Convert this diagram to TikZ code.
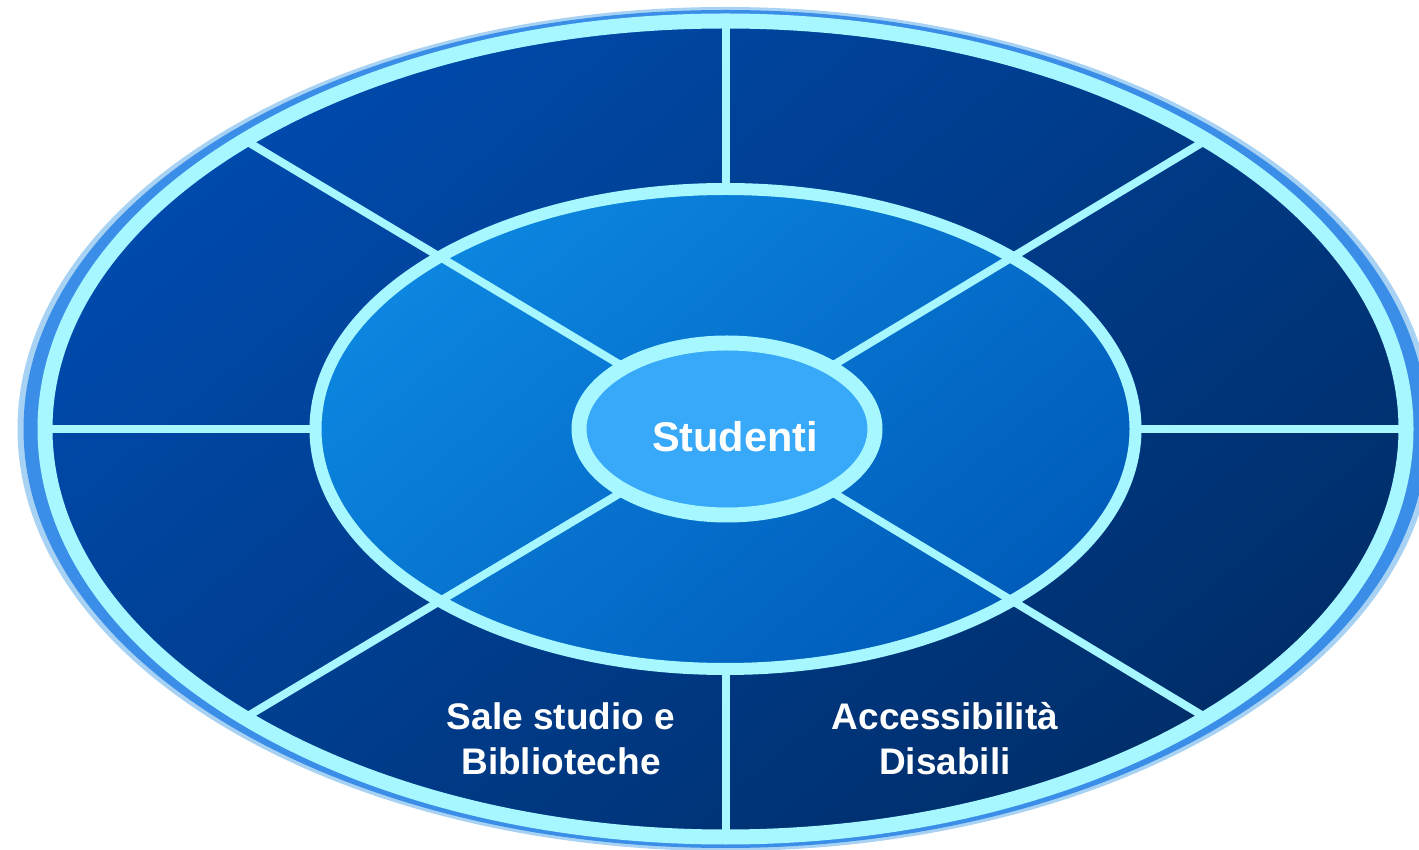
\documentclass[tikz,border=0pt]{standalone}
\usepackage{fontspec}
\setmainfont{Liberation Sans}
\usetikzlibrary{shapes.geometric}
\definecolor{ringcyan}{HTML}{A6F7FF}
\definecolor{halo}{HTML}{3A8EE8}
\definecolor{halolight}{HTML}{A8D2F4}
\definecolor{outerA}{HTML}{004AAC}
\definecolor{outerB}{HTML}{002E6A}
\definecolor{midA}{HTML}{0C86E0}
\definecolor{midB}{HTML}{005CBA}
\definecolor{innerfill}{HTML}{38A8F8}
\tikzset{
  ring/.style={ellipse, inner sep=0pt, outer sep=0pt, draw=ringcyan},
  spoke/.style={draw=ringcyan, line width=8pt},
  label/.style={text=white, font=\bfseries\fontsize{37}{45}\selectfont, align=center},
}
\begin{document}
\begin{tikzpicture}[x=1pt,y=1pt]
\useasboundingbox (0,0) rectangle (1419,849);
% halo around the outer ellipse
\fill[halolight] (725.5,420) ellipse [x radius=708pt, y radius=422pt];
\fill[halo] (725.5,420) ellipse [x radius=702pt, y radius=419pt];
% outer ellipse
\node[ring, line width=15pt, minimum width=1361pt, minimum height=816pt,
  shading=axis, top color=outerA, bottom color=outerB, shading angle=40] (outer) at (725.5,420) {};
% middle ellipse
\node[ring, line width=12pt, minimum width=820pt, minimum height=480pt,
  shading=axis, top color=midA, bottom color=midB, shading angle=40] (middle) at (725.5,420) {};
% straight spokes
\draw[spoke] (middle.north) -- (outer.north);
\draw[spoke] (middle.south) -- (outer.south);
\draw[spoke] (middle.west) -- (outer.west);
\draw[spoke] (middle.east) -- (outer.east);
% inner ellipse
\node[ring, line width=15pt, minimum width=296pt, minimum height=172pt,
  fill=innerfill] (inner) at (727,420) {};
% diagonal spokes
\draw[spoke] (inner.149) -- (outer.149);
\draw[spoke] (inner.31) -- (outer.31);
\draw[spoke] (inner.211) -- (outer.211);
\draw[spoke] (inner.329) -- (outer.329);
% texts
\node[text=white, font=\bfseries\fontsize{41.5}{48}\selectfont] (studenti) at (735,412) {Studenti};
\node[label] (sale) at (561,110) {Sale studio e\\Biblioteche};
\node[label] (access) at (945,110) {Accessibilità\\Disabili};
\end{tikzpicture}
\end{document}
